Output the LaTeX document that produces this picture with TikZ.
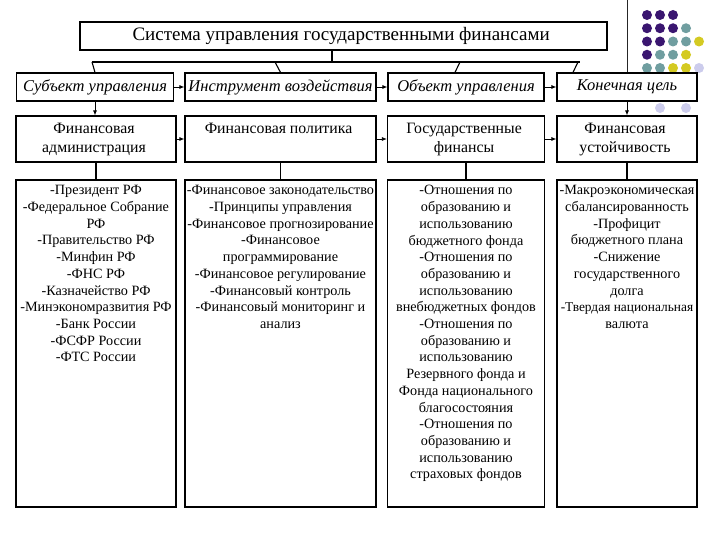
\documentclass[tikz,border=0pt]{standalone}
\usepackage{fontspec}
\setmainfont{Liberation Serif}
\usetikzlibrary{arrows.meta,positioning}
\definecolor{dotpurple}{RGB}{58,22,112}
\definecolor{dotteal}{RGB}{112,158,160}
\definecolor{dotyellow}{RGB}{212,202,34}
\definecolor{dotlilac}{RGB}{204,204,236}

\tikzset{
    box/.style={draw, line width=1.2pt, inner sep=1pt, align=center},
    headbox/.style={box, minimum height=28pt, font=\fontsize{16.5}{18}\selectfont\itshape},
    namebox/.style={box, minimum height=46pt, font=\fontsize{15.8}{19}\selectfont},
    listbox/.style={box, inner sep=0pt, minimum height=327pt, font=\fontsize{14.2}{16.7}\selectfont},
    flow/.style={-{Latex[length=5pt,width=4pt]}, line width=0.8pt},
    link/.style={line width=1.8pt},
    slant/.style={line width=1.1pt},
    dot/.style={circle, inner sep=0pt, minimum size=10pt},
}

\newcommand{\listtext}[2]{\parbox[c][316pt][t]{#1}{\centering #2}}
\newcommand{\fullline}[1]{\makebox[\linewidth][c]{#1}}

\begin{document}
\begin{tikzpicture}[x=1pt, y=-1pt]
                \useasboundingbox (0,0) rectangle (720,540);

                \foreach \c/\r/\col in {1/1/dotpurple, 2/1/dotpurple, 3/1/dotpurple,
                                        1/2/dotpurple, 2/2/dotpurple, 3/2/dotpurple, 4/2/dotteal,
                                        1/3/dotpurple, 2/3/dotpurple, 3/3/dotteal, 4/3/dotteal, 5/3/dotyellow,
                                        1/4/dotpurple, 2/4/dotteal, 3/4/dotteal, 4/4/dotyellow,
                                        1/5/dotteal, 2/5/dotteal, 3/5/dotyellow, 4/5/dotyellow, 5/5/dotlilac}
                    \node[dot, fill=\col] at ({647+13*(\c-1)}, {15+13.25*(\r-1)}) {};
                \node[dot, fill=dotlilac] (lowdotA) at (660,108) {};
                \node[dot, fill=dotlilac] (lowdotB) at (686,108) {};

                \node[box, minimum width=527pt, minimum height=28pt, font=\fontsize{19}{21}\selectfont] (system) at (343.5,36) {
                    Система управления государственными финансами
                };

                \node[headbox, minimum width=157pt] (subject) at (95,87) {Субъект управления};
                \node[headbox, minimum width=191pt] (tool) at (280.5,87) {Инструмент воздействия};
                \node[headbox, minimum width=156pt] (object) at (466,87) {Объект управления};
                \node[headbox, minimum width=140pt] (goal) at (627,87) {Конечная цель};

                \node[namebox, minimum width=160pt] (admin) at (96,139) {
                    \begin{tabular}{c}
                        Финансовая\\
                        администрация
                    \end{tabular}
                };
                \node[namebox, minimum width=191pt] (policy) at (280.5,139) {
                    \begin{tabular}{c}
                        Финансовая политика\\
                        \mbox{}
                    \end{tabular}
                };
                \node[namebox, minimum width=157pt] (finance) at (466,139) {
                    \begin{tabular}{c}
                        Государственные\\
                        финансы
                    \end{tabular}
                };
                \node[namebox, minimum width=140pt] (stability) at (627,139) {
                    \begin{tabular}{c}
                        Финансовая\\
                        устойчивость
                    \end{tabular}
                };

                \node[listbox, minimum width=160pt] (adminlist) at (96,343.5) {\listtext{158pt}{
                    -Президент РФ\\
                    -Федеральное Собрание\\
                    РФ\\
                    -Правительство РФ\\
                    -Минфин РФ\\
                    -ФНС РФ\\
                    -Казначейство РФ\\
                    \fullline{-Минэкономразвития РФ}\\
                    -Банк России\\
                    -ФСФР России\\
                    -ФТС России}};
                \node[listbox, minimum width=191pt] (policylist) at (280.5,343.5) {\listtext{190pt}{
                    \fullline{-Финансовое законодательство}\\
                    -Принципы управления\\
                    \fullline{-Финансовое прогнозирование}\\
                    -Финансовое\\
                    программирование\\
                    -Финансовое регулирование\\
                    -Финансовый контроль\\
                    -Финансовый мониторинг и\\
                    анализ}};
                \node[listbox, minimum width=157pt] (financelist) at (466,343.5) {\listtext{155pt}{
                    -Отношения по\\
                    образованию и\\
                    использованию\\
                    бюджетного фонда\\
                    -Отношения по\\
                    образованию и\\
                    использованию\\
                    внебюджетных фондов\\
                    -Отношения по\\
                    образованию и\\
                    использованию\\
                    Резервного фонда и\\
                    Фонда национального\\
                    благосостояния\\
                    -Отношения по\\
                    образованию и\\
                    использованию\\
                    страховых фондов}};
                \node[listbox, minimum width=140pt] (stabilitylist) at (627,343.5) {\listtext{139pt}{
                    \fullline{-Макроэкономическая}\\
                    сбалансированность\\
                    -Профицит\\
                    бюджетного плана\\
                    -Снижение\\
                    государственного\\
                    долга\\
                    \fullline{\fontsize{13.4}{16.7}\selectfont -Твердая национальная}\\
                    валюта}};

                \coordinate (barleft) at (92,62);
                \coordinate (barright) at (580,62);
                \coordinate (barmid) at (332,62);
                \coordinate (bartool) at (275,62);
                \coordinate (barobject) at (460,62);
                \coordinate (bargoal) at (578,62);
                \coordinate (slidetop) at (627,0);

                \draw[line width=0.9pt, black!85] (slidetop) -- (goal.north);
                \draw[link] (barleft) -- (barright);
                \draw[link] (system.south -| barmid) -- (barmid);
                \draw[slant] (barleft) -- (subject.north);
                \draw[slant] (bartool) -- (tool.north);
                \draw[slant] (barobject) -- ([xshift=-11pt]object.north);
                \draw[slant] (bargoal) -- ([xshift=-54pt]goal.north);

                \draw[flow] (subject) -- (tool);
                \draw[flow] (tool) -- (object);
                \draw[flow] (object) -- (goal);
                \draw[flow] (admin) -- (policy);
                \draw[flow] (policy) -- (finance);
                \draw[flow] (finance) -- (stability);
                \draw[flow] (subject.south) -- (subject.south |- admin.north);
                \draw[flow] (goal.south) -- (stability.north);

                \draw[link] (admin) -- (adminlist);
                \draw[link] (policy) -- (policylist);
                \draw[link] (finance) -- (financelist);
                \draw[link] (stability) -- (stabilitylist);
            \end{tikzpicture}
\end{document}
